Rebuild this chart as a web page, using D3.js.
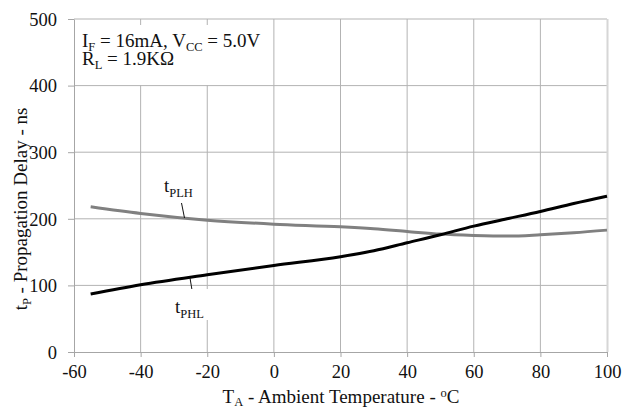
<!DOCTYPE html>
<html>
<head>
<meta charset="utf-8">
<script src="https://cdn.jsdelivr.net/npm/d3@7"></script>
<style>
  body { margin: 0; background: #fff; }
  svg text, svg tspan { font-family: "Liberation Serif", "Tinos", "Times New Roman", "DejaVu Serif", serif !important; fill: #111; }
</style>
</head>
<body>
<div id="chart"></div>
<script>
const width = 629
const height = 410

// values
const temps = [-55, -40, -20, 0, 20, 30, 40, 50, 60, 70, 80, 90, 100]
const tPLH = [218, 208, 198, 192, 188, 185, 181, 177, 175, 174, 176, 179, 183]
const tPHL = [87, 101, 116, 130, 143, 152, 164, 176, 189, 200, 211, 223, 234]
const xTicks = [-60, -40, -20, 0, 20, 40, 60, 80, 100]
const yTicks = [0, 100, 200, 300, 400, 500]

const margin = { left: 74, right: 22, top: 19, bottom: 58 }

const x = d3.scaleLinear().domain([-60, 100]).range([margin.left, width - margin.right])
const y = d3.scaleLinear().domain([0, 500]).range([height - margin.bottom, margin.top])

const svg = d3
  .select("#chart")
  .append("svg")
  .attr("width", width)
  .attr("height", height)
  .attr("font-family", "Liberation Serif")

const grid = svg.append("g").attr("stroke", "#b3b3b3").attr("stroke-width", 1)

grid
  .selectAll("line.v")
  .data(xTicks.slice(1, -1))
  .join("line")
  .attr("class", "v")
  .attr("x1", (d) => x(d))
  .attr("x2", (d) => x(d))
  .attr("y1", y(500))
  .attr("y2", y(0))

grid
  .selectAll("line.h")
  .data(yTicks.slice(1))
  .join("line")
  .attr("class", "h")
  .attr("x1", x(-60))
  .attr("x2", x(100))
  .attr("y1", (d) => y(d))
  .attr("y2", (d) => y(d))

// right edge is lighter and a bit wider
svg
  .append("line")
  .attr("x1", x(100) + 0.5)
  .attr("x2", x(100) + 0.5)
  .attr("y1", y(500))
  .attr("y2", y(0))
  .attr("stroke", "#d6d6d6")
  .attr("stroke-width", 2)

// axes
const xAxis = svg
  .append("g")
  .attr("transform", `translate(0,${y(0)})`)
  .call(d3.axisBottom(x).tickValues(xTicks).tickSize(5).tickSizeOuter(0).tickPadding(8))
const yAxis = svg
  .append("g")
  .attr("transform", `translate(${x(-60)},0)`)
  .call(d3.axisLeft(y).tickValues(yTicks).tickSize(6).tickSizeOuter(0).tickPadding(11))

;[xAxis, yAxis].forEach((a) => {
  a.attr("font-family", "Liberation Serif").attr("font-size", 18.5)
  a.select(".domain").attr("stroke", "#a6a6a6")
  a.selectAll(".tick line").attr("stroke", "#a6a6a6")
  a.selectAll(".tick text").attr("fill", "#111")
})
xAxis.selectAll(".tick text").text((d) => (d < 0 ? "-" + Math.abs(d) : d))
yAxis.selectAll(".tick text").attr("dy", "0.34em")

// annotation box (covers grid)
svg
  .append("rect")
  .attr("x", x(-60) + 1)
  .attr("y", 25)
  .attr("width", 194)
  .attr("height", 60)
  .attr("fill", "#fff")

const note = svg.append("g").attr("font-size", 19)
const l1 = note.append("text").attr("x", 82).attr("y", 47)
l1.append("tspan").text("I")
l1.append("tspan").attr("font-size", 12.5).attr("dy", 4).text("F")
l1.append("tspan").attr("dy", -4).text(" = 16mA, V")
l1.append("tspan").attr("font-size", 12.5).attr("dy", 4).text("CC")
l1.append("tspan").attr("dy", -4).text(" = 5.0V")
const l2 = note.append("text").attr("x", 82).attr("y", 65)
l2.append("tspan").text("R")
l2.append("tspan").attr("font-size", 12.5).attr("dy", 4).text("L")
l2.append("tspan").attr("dy", -4).text(" = 1.9K\u03A9")

// curves
const line = d3
  .line()
  .x((d, i) => x(temps[i]))
  .y((d) => y(d))
  .curve(d3.curveMonotoneX)

svg
  .append("path")
  .datum(tPLH)
  .attr("d", line)
  .attr("fill", "none")
  .attr("stroke", "#808080")
  .attr("stroke-width", 3)

svg
  .append("path")
  .datum(tPHL)
  .attr("d", line)
  .attr("fill", "none")
  .attr("stroke", "#000")
  .attr("stroke-width", 3)

// curve labels
const leader = svg.append("g").attr("stroke", "#111").attr("stroke-width", 1)
leader.append("line").attr("x1", 181.5).attr("y1", 203).attr("x2", 184.5).attr("y2", 218)

svg.append("rect").attr("x", 171).attr("y", 289).attr("width", 44).attr("height", 31).attr("fill", "#fff")
leader.append("line").attr("x1", 190).attr("y1", 278).attr("x2", 192).attr("y2", 290)

const plh = svg.append("text").attr("x", 164).attr("y", 192).attr("font-size", 19)
plh.append("tspan").text("t")
plh.append("tspan").attr("font-size", 12.5).attr("dy", 5).text("PLH")

const phl = svg.append("text").attr("x", 175).attr("y", 313).attr("font-size", 19)
phl.append("tspan").text("t")
phl.append("tspan").attr("font-size", 12.5).attr("dy", 5).text("PHL")

// axis titles
const xt = svg.append("text").attr("x", 341).attr("y", 403).attr("text-anchor", "middle").attr("font-size", 19)
xt.append("tspan").text("T")
xt.append("tspan").attr("font-size", 12.5).attr("dy", 3).text("A")
xt.append("tspan").attr("dy", -3).text(" - Ambient Temperature - ")
xt.append("tspan").attr("font-size", 12.5).attr("dy", -6).text("o")
xt.append("tspan").attr("dy", 6).text("C")

const yt = svg
  .append("text")
  .attr("transform", "translate(27,209) rotate(-90)")
  .attr("text-anchor", "middle")
  .attr("font-size", 19)
yt.append("tspan").text("t")
yt.append("tspan").attr("font-size", 12.5).attr("dy", 4).text("P")
yt.append("tspan").attr("dy", -4).text(" - Propagation Delay - ns")
</script>
</body>
</html>
